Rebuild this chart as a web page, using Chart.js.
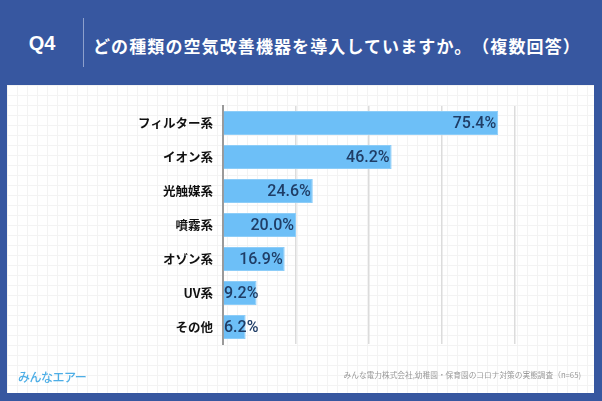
<!DOCTYPE html>
<html><head><meta charset="utf-8">
<script src="https://cdn.jsdelivr.net/npm/chart.js@4"></script>
<style>
html,body{margin:0;padding:0;}
body{width:602px;height:401px;background:#3757a0;position:relative;overflow:hidden;font-family:"Noto Sans CJK JP","Noto Sans",sans-serif;}
#q{position:absolute;left:19px;top:32px;width:46px;text-align:center;color:#fff;font:bold 20px "Liberation Sans","Noto Sans CJK JP",sans-serif;}
#div{position:absolute;left:83px;top:18px;width:1px;height:49px;background:#8da0cc;}
#title{position:absolute;left:93px;top:33px;color:#fff;font:bold 17px "Noto Sans CJK JP",sans-serif;letter-spacing:1.1px;white-space:nowrap;text-spacing-trim:space-all;}
#panel{position:absolute;left:7px;top:85px;width:587px;height:308px;background-color:#fff;
background-image:linear-gradient(#f3f3f3 1px,transparent 1px),linear-gradient(90deg,#f3f3f3 1px,transparent 1px);background-size:10px 10px;}
#c{position:absolute;left:0;top:0;}
#logo{position:absolute;left:11px;top:283px;color:#4daee6;font:500 12px "Noto Sans CJK JP",sans-serif;letter-spacing:-0.5px;}
#src{position:absolute;right:13px;top:284px;color:#999;font:7.7px "Noto Sans CJK JP",sans-serif;white-space:nowrap;}
</style></head>
<body>
<div id="q">Q4</div>
<div id="div"></div>
<div id="title">どの種類の空気改善機器を導入していますか。（複数回答）</div>
<div id="panel">
<canvas id="c" width="587" height="308"></canvas>
<div id="logo">みんなエアー</div>
<div id="src">みんな電力株式会社,幼稚園・保育園のコロナ対策の実態調査（n=65)</div>
</div>
<script>
const categories = ["フィルター系","イオン系","光触媒系","噴霧系","オゾン系","UV系","その他"];
const values = [75.4,46.2,24.6,20.0,16.9,9.2,6.2];
const xTicks = [0,20,40,60,80,100];

const valueLabels = {
  id:'valueLabels',
  afterDatasetsDraw(chart){
    const ctx = chart.ctx;
    const meta = chart.getDatasetMeta(0);
    const x0 = chart.scales.x.getPixelForValue(0);
    ctx.save();
    ctx.font = '500 16px Roboto, "Liberation Sans", Arial, sans-serif';
    ctx.fillStyle = '#1f3d66';
    ctx.textBaseline = 'middle';
    ctx.textAlign = 'left';
    meta.data.forEach((bar,i)=>{
      const txt = values[i].toFixed(1)+'%';
      const w = ctx.measureText(txt).width;
      let x = bar.x - w - 2;
      if (x < x0 + 1) x = x0 + 1;
      ctx.fillText(txt, x, bar.y+1);
    });
    ctx.restore();
  }
};

new Chart(document.getElementById('c'), {
  type:'bar',
  data:{labels:categories,datasets:[{data:values,backgroundColor:'#6dbff7',borderColor:'#8dcdf8',borderWidth:1,borderSkipped:'left',barPercentage:0.7,categoryPercentage:1}]},
  options:{
    indexAxis:'y',responsive:false,animation:false,devicePixelRatio:1,
    layout:{padding:{top:21,bottom:49,right:6,left:0}},
    plugins:{legend:{display:false},tooltip:{enabled:false}},
    scales:{
      x:{min:0,max:100,afterBuildTicks(s){s.ticks=xTicks.map(v=>({value:v}));},
        ticks:{display:false},border:{display:false},
        grid:{drawTicks:false,lineWidth:1.5,color:(c)=>(c.tick&&(c.tick.value===0||c.tick.value===100))?'rgba(0,0,0,0)':'#dcdcdc'}},
      y:{afterFit(s){s.width=216;},
        ticks:{color:'#111',padding:10,font:{family:'"Noto Sans CJK JP",sans-serif',weight:'bold',size:12.5}},
        grid:{display:false,drawTicks:false},border:{display:true,color:'#9a9a9a',width:2}}
    }
  },
  plugins:[valueLabels]
});
</script>
</body></html>
